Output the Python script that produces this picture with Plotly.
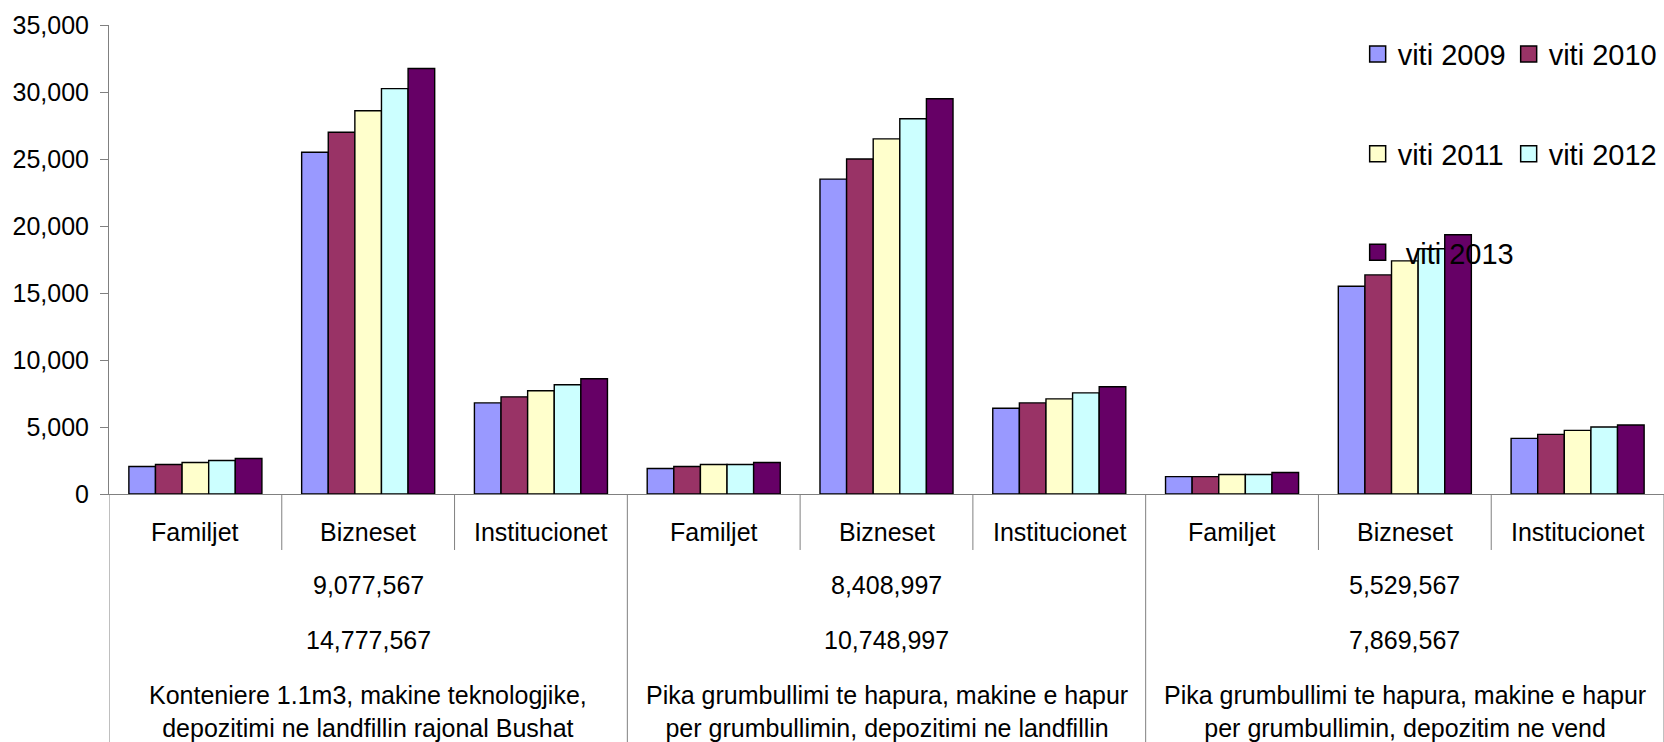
import plotly.graph_objects as go

# ---- data ----
subcats = ["Familjet", "Bizneset", "Institucionet"]
group_desc = [
    "Konteniere 1.1m3, makine teknologjike,<br>depozitimi ne landfillin rajonal Bushat",
    "Pika grumbullimi te hapura, makine e hapur<br>per grumbullimin, depozitimi ne landfillin",
    "Pika grumbullimi te hapura, makine e hapur<br>per grumbullimin, depozitim ne vend",
]
group_val1 = ["9,077,567", "8,408,997", "5,529,567"]
group_val2 = ["14,777,567", "10,748,997", "7,869,567"]

years = ["viti 2009", "viti 2010", "viti 2011", "viti 2012", "\u00a0viti 2013"]
v2009 = [2050, 25500, 6800, 1900, 23500, 6400, 1300, 15500, 4150]
v2010 = [2200, 27000, 7250, 2050, 25000, 6800, 1300, 16350, 4450]
v2011 = [2350, 28600, 7700, 2200, 26500, 7100, 1450, 17400, 4750]
v2012 = [2500, 30250, 8150, 2200, 28000, 7550, 1450, 18300, 5000]
v2013 = [2650, 31750, 8600, 2350, 29500, 8000, 1600, 19350, 5150]
series = [v2009, v2010, v2011, v2012, v2013]
colors = ["#9999FF", "#993366", "#FFFFCC", "#CCFFFF", "#660066"]
legend_ids = ["legend", "legend", "legend2", "legend2", "legend3"]

yticks = [0, 5000, 10000, 15000, 20000, 25000, 30000, 35000]

FONT = "Liberation Sans, Arial, sans-serif"
GREY = "#808080"

n_cat = len(group_desc) * len(subcats)
xpos = list(range(n_cat))

fig = go.Figure()
for name, vals, col, lg in zip(years, series, colors, legend_ids):
    fig.add_trace(go.Bar(
        x=xpos, y=vals, name=name, legendgroup=name, showlegend=False,
        marker=dict(color=col, line=dict(color="black", width=1.4)),
    ))
    # legend-only entry (larger square symbol)
    fig.add_trace(go.Scatter(
        x=[None], y=[None], mode="markers", name=name, legendgroup=name,
        legend=lg,
        marker=dict(symbol="square", size=16, color=col,
                    line=dict(color="black", width=1.5)),
    ))

shapes = []
annotations = []
# category boundaries
for b in range(n_cat + 1):
    long_line = (b % 3 == 0)
    shapes.append(dict(
        type="line", xref="x", yref="paper",
        x0=b - 0.5, x1=b - 0.5, y0=0, y1=(-0.55 if long_line else -0.1194),
        line=dict(color=GREY, width=1),
    ))
# labels
for i in range(n_cat):
    annotations.append(dict(
        x=i, y=0, xref="x", yref="paper", yanchor="middle", yshift=-37.7,
        text=subcats[i % 3], showarrow=False,
        font=dict(family=FONT, size=25, color="black"),
    ))
for g in range(len(group_desc)):
    xc = g * 3 + 1
    annotations.append(dict(
        x=xc, y=0, xref="x", yref="paper", yanchor="middle", yshift=-91,
        text=group_val1[g], showarrow=False,
        font=dict(family=FONT, size=25, color="black"),
    ))
    annotations.append(dict(
        x=xc, y=0, xref="x", yref="paper", yanchor="middle", yshift=-145.5,
        text=group_val2[g], showarrow=False,
        font=dict(family=FONT, size=25, color="black"),
    ))
    annotations.append(dict(
        x=xc, y=0, xref="x", yref="paper", yanchor="middle", yshift=-217,
        text=group_desc[g], showarrow=False,
        font=dict(family=FONT, size=25, color="black"),
    ))

legend_common = dict(
    orientation="h", xanchor="left", yanchor="middle",
    bgcolor="rgba(0,0,0,0)", borderwidth=0,
    font=dict(family=FONT, size=29, color="black"),
    itemclick="toggle",
)

fig.update_layout(
    width=1664, height=742,
    margin=dict(l=109, r=0, t=25, b=248, pad=0),
    paper_bgcolor="white", plot_bgcolor="white",
    barmode="group", bargap=0.23, bargroupgap=0,
    font=dict(family=FONT, size=25, color="black"),
    xaxis=dict(range=[-0.5, n_cat - 0.5], showticklabels=False, ticks="",
               showgrid=False, zeroline=False, showline=True,
               linecolor=GREY, linewidth=1, fixedrange=True),
    yaxis=dict(range=[0, 35000], tickvals=yticks, tickformat=",",
               ticks="outside", ticklen=8, tickcolor=GREY, tickwidth=1,
               showline=True, linecolor=GREY, linewidth=1,
               showgrid=False, zeroline=False,
               tickfont=dict(family=FONT, size=25, color="black"),
               ticklabelstandoff=6, fixedrange=True),
    legend=dict(x=0.803, y=0.938, entrywidth=106, entrywidthmode="pixels",
                **legend_common),
    legend2=dict(x=0.803, y=0.725, entrywidth=106, entrywidthmode="pixels",
                 **legend_common),
    legend3=dict(x=0.803, y=0.515, **legend_common),
    shapes=shapes,
    annotations=annotations,
)

fig.write_html("out.html", config={"displayModeBar": False},
               post_script="document.body.style.margin='0';")
